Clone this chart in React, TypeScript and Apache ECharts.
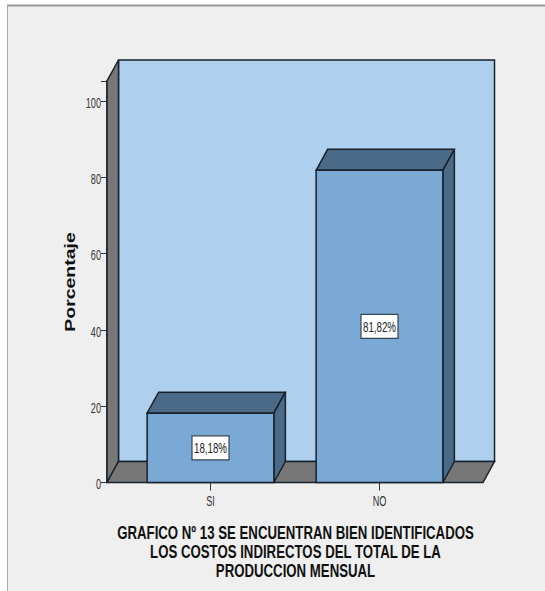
import React, { useEffect, useRef } from "react";
import * as echarts from "echarts";

const categories = ["SI", "NO"];
const percentages = [18.18, 81.82];
const yTicks = [0, 20, 40, 60, 80, 100];
const axisTop = 105.24;
const yAxisName = "Porcentaje";
const titleLines = [
  "GRAFICO Nº 13 SE ENCUENTRAN BIEN IDENTIFICADOS",
  "LOS COSTOS INDIRECTOS DEL TOTAL DE LA",
  "PRODUCCION MENSUAL",
];

const DEPTH_X = 11.5;
const DEPTH_Y = 21;
const SIDE_PAD = 19;
const EDGE = "#17212b";
const SANS = '"Liberation Sans", Arial, sans-serif';
const LABEL_FONT = `15px ${SANS}`;
const CONDENSE = 0.61;

// Back wall, left wall and floor of the 3D box behind the bars.
const renderBox = (params: any) => {
  const cs = params.coordSys;
  const x0 = cs.x - SIDE_PAD;
  const x1 = cs.x + cs.width + SIDE_PAD;
  const top = cs.y;
  const bottom = cs.y + cs.height;
  const stroke = { stroke: EDGE, lineWidth: 1.5 };
  return {
    type: "group",
    children: [
      {
        type: "rect",
        shape: { x: x0 + DEPTH_X, y: top - DEPTH_Y, width: x1 - x0, height: bottom - top },
        style: { fill: "#aed0ee", ...stroke },
      },
      {
        type: "polygon",
        shape: {
          points: [
            [x0, bottom],
            [x0, top],
            [x0 + DEPTH_X, top - DEPTH_Y],
            [x0 + DEPTH_X, bottom - DEPTH_Y],
          ],
        },
        style: { fill: "#777777", ...stroke },
      },
      {
        type: "polygon",
        shape: {
          points: [
            [x0, bottom],
            [x0 + DEPTH_X, bottom - DEPTH_Y],
            [x1 + DEPTH_X, bottom - DEPTH_Y],
            [x1, bottom],
          ],
        },
        style: { fill: "#777777", ...stroke },
      },
    ],
  };
};

// One 3D bar: top face, side face, front face and its boxed percentage label.
const renderBar = (_params: any, api: any) => {
  const idx = api.value(0);
  const val = api.value(1);
  const [cx, yTop] = api.coord([idx, val]);
  const [, yBase] = api.coord([idx, 0]);
  const w = api.size([1, 0])[0] * 0.75;
  const xl = cx - w / 2;
  const xr = cx + w / 2;
  const stroke = { stroke: EDGE, lineWidth: 1.5 };
  const label = val.toFixed(2).replace(".", ",") + "%";
  const midY = (yTop + yBase) / 2;
  return {
    type: "group",
    children: [
      {
        type: "polygon",
        shape: {
          points: [
            [xl, yTop],
            [xl + DEPTH_X, yTop - DEPTH_Y],
            [xr + DEPTH_X, yTop - DEPTH_Y],
            [xr, yTop],
          ],
        },
        style: { fill: "#4b6a87", ...stroke },
      },
      {
        type: "polygon",
        shape: {
          points: [
            [xr, yTop],
            [xr + DEPTH_X, yTop - DEPTH_Y],
            [xr + DEPTH_X, yBase - DEPTH_Y],
            [xr, yBase],
          ],
        },
        style: { fill: "#4b6a87", ...stroke },
      },
      {
        type: "rect",
        shape: { x: xl, y: yTop, width: w, height: yBase - yTop },
        style: { fill: "#7aa9d6", ...stroke },
      },
      {
        type: "rect",
        shape: { x: cx - 18.5, y: midY - 12, width: 37, height: 24 },
        style: { fill: "#ffffff", stroke: "#3a4550", lineWidth: 1.2 },
      },
      {
        type: "text",
        x: cx,
        y: midY + 0.5,
        scaleX: 0.65,
        style: {
          x: 0,
          y: 0,
          text: label,
          align: "center",
          verticalAlign: "middle",
          fill: "#222222",
          font: LABEL_FONT,
        },
      },
    ],
  };
};

// Condensed value-axis tick labels.
const renderYLabel = (params: any, api: any) => {
  const cs = params.coordSys;
  const val = api.value(1);
  const [, y] = api.coord([0, val]);
  return {
    type: "text",
    x: cs.x - SIDE_PAD - 6,
    y: y + 2,
    scaleX: CONDENSE,
    style: {
      x: 0,
      y: 0,
      text: String(val),
      align: "right",
      verticalAlign: "middle",
      fill: "#333333",
      font: LABEL_FONT,
    },
  };
};

// Condensed category labels under the bars.
const renderXLabel = (_params: any, api: any) => {
  const idx = api.value(0);
  const [x, y] = api.coord([idx, 0]);
  return {
    type: "text",
    x,
    y: y + 18.5,
    scaleX: CONDENSE,
    style: {
      x: 0,
      y: 0,
      text: categories[idx],
      align: "center",
      verticalAlign: "middle",
      fill: "#333333",
      font: LABEL_FONT,
    },
  };
};

export default function App() {
  const ref = useRef<HTMLDivElement>(null);

  useEffect(() => {
    document.body.style.margin = "0";
    const chart = echarts.init(ref.current!, null, { renderer: "svg" });
    chart.setOption({
      animation: false,
      backgroundColor: "#ffffff",
      graphic: [
        { type: "rect", shape: { x: 7, y: 5, width: 538, height: 586 }, style: { fill: "#efefef" }, z: -10 },
        { type: "line", shape: { x1: 7, y1: 5.5, x2: 545, y2: 5.5 }, style: { stroke: "#999999", lineWidth: 2 }, z: -9 },
        { type: "line", shape: { x1: 7.5, y1: 5, x2: 7.5, y2: 591 }, style: { stroke: "#a8a8a8", lineWidth: 1 }, z: -9 },
        {
          type: "text",
          x: 295.5,
          y: 523,
          scaleX: 0.735,
          style: {
            x: 0,
            y: 0,
            text: titleLines.join("\n"),
            align: "center",
            lineHeight: 19,
            fill: "#111111",
            font: `bold 18px ${SANS}`,
          },
        },
        {
          type: "text",
          x: 70,
          y: 282,
          rotation: Math.PI / 2,
          scaleX: 1.39,
          style: {
            x: 0,
            y: 0,
            text: yAxisName,
            align: "center",
            verticalAlign: "middle",
            fill: "#111111",
            font: `bold 14px ${SANS}`,
          },
        },
      ],
      grid: { left: 126, top: 81, width: 338, height: 401.5 },
      xAxis: {
        type: "category",
        data: categories,
        axisLine: { show: false },
        axisTick: { show: true, alignWithLabel: true, length: 8, lineStyle: { color: "#333333" } },
        axisLabel: { show: false },
      },
      yAxis: {
        type: "value",
        min: 0,
        max: axisTop,
        interval: 20,
        offset: SIDE_PAD,
        splitLine: { show: false },
        axisLine: { show: true, lineStyle: { color: EDGE, width: 1.5 } },
        axisTick: { show: true, length: 6, lineStyle: { color: "#333333" } },
        axisLabel: { show: false },
      },
      series: [
        {
          type: "custom",
          coordinateSystem: "cartesian2d",
          data: [[0, 0]],
          renderItem: renderBox,
          silent: true,
          z: 1,
        },
        {
          type: "custom",
          coordinateSystem: "cartesian2d",
          data: percentages.map((v, i) => [i, v]),
          encode: { x: 0, y: 1 },
          renderItem: renderBar,
          z: 2,
        },
        {
          type: "custom",
          coordinateSystem: "cartesian2d",
          data: yTicks.map((v) => [0, v]),
          encode: { x: 0, y: 1 },
          renderItem: renderYLabel,
          silent: true,
          z: 3,
        },
        {
          type: "custom",
          coordinateSystem: "cartesian2d",
          data: categories.map((_, i) => [i, 0]),
          encode: { x: 0, y: 1 },
          renderItem: renderXLabel,
          silent: true,
          z: 3,
        },
      ],
    });
    return () => chart.dispose();
  }, []);

  return <div ref={ref} style={{ position: "absolute", left: 0, top: 0, width: 545, height: 591 }} />;
}
